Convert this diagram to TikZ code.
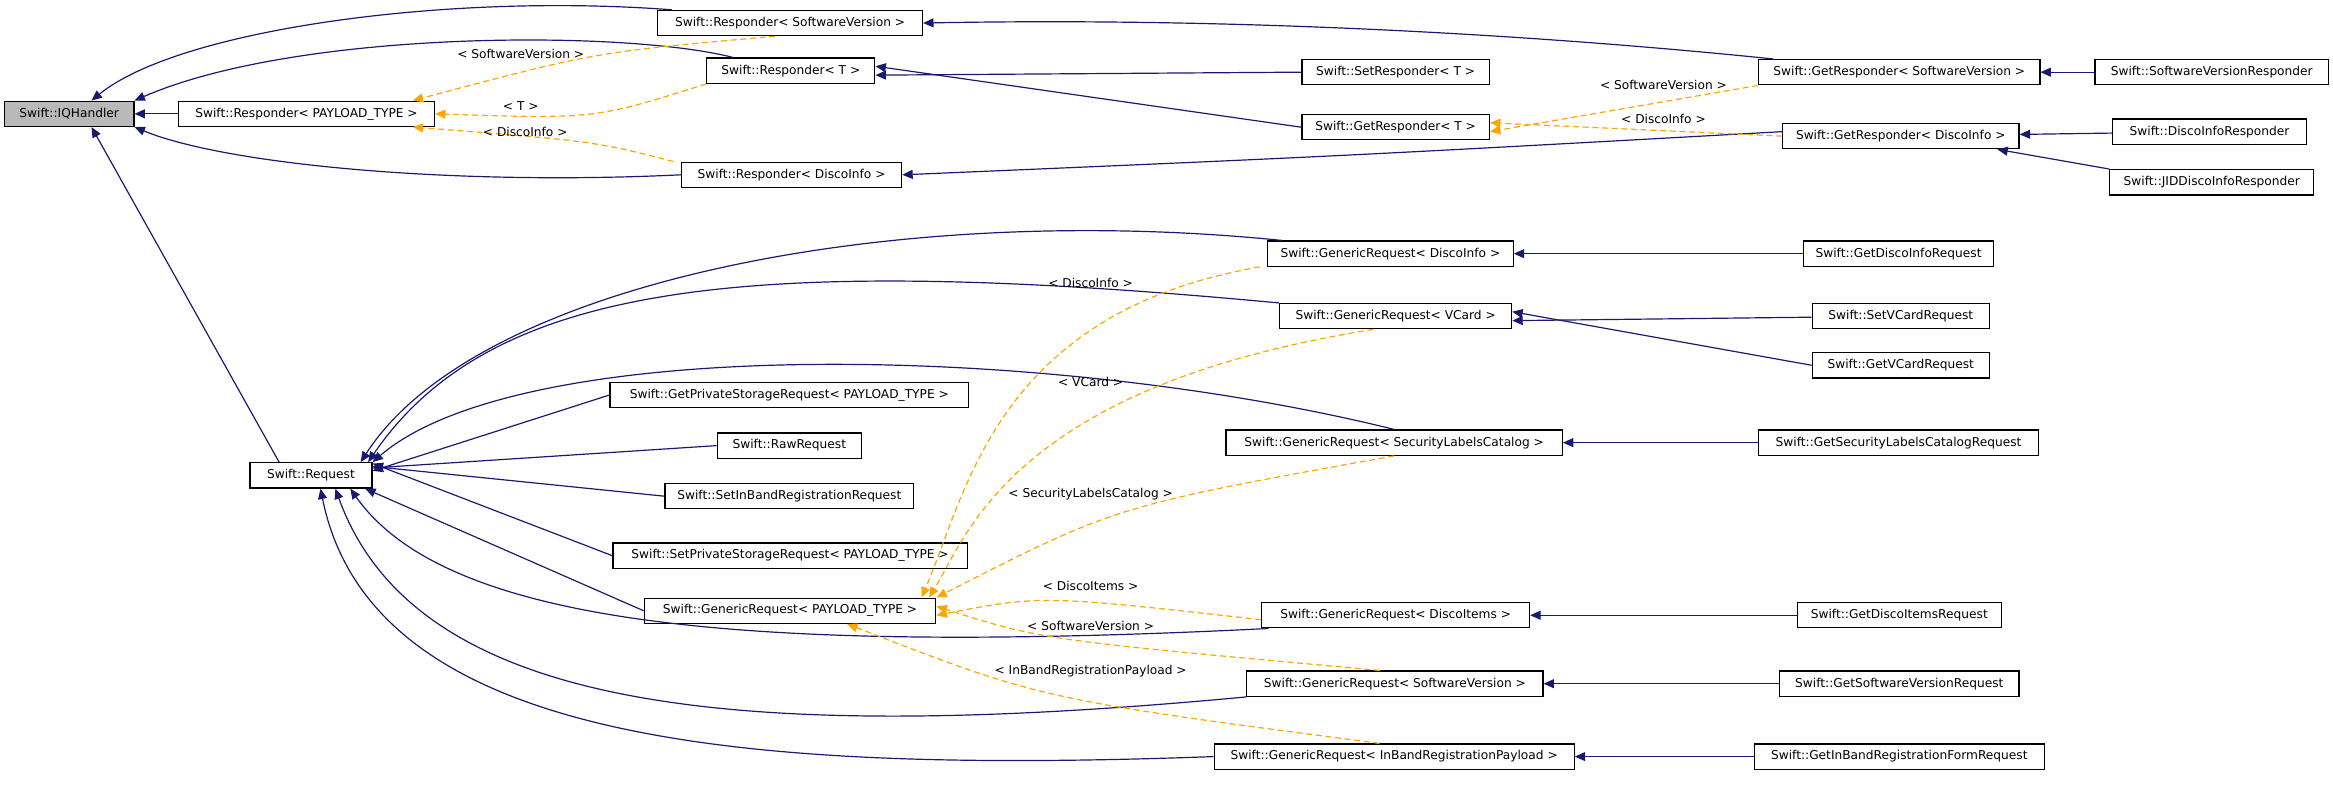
\documentclass[tikz,border=0pt]{standalone}
\usepackage{fontspec}
\setmainfont{DejaVu Sans}
\usetikzlibrary{arrows.meta}
\definecolor{nv}{HTML}{191970}
\definecolor{og}{HTML}{FFA500}
\begin{document}
\begin{tikzpicture}[x=1pt,y=-1pt,
 b/.style={draw,line width=0.8pt,minimum height=17pt,inner sep=1pt,font=\fontsize{8.2}{9}\selectfont,fill=white},
 inh/.style={nv,line width=0.8pt,-{Triangle[length=7pt,width=6pt]}},
 tpl/.style={og,line width=0.8pt,dashed,dash pattern=on 4pt off 2.5pt,-{Triangle[length=7pt,width=6pt]}},
 lb/.style={font=\fontsize{8.2}{9}\selectfont,inner sep=1pt}]
\useasboundingbox (0,0) rectangle (1568,529);
% nodes
\node[b,fill=gray!55,minimum width=87pt] (iq) at (46.5,76.5) {Swift::IQHandler};
\node[b,minimum width=172pt] (rp) at (206,76.5) {Swift::Responder< PAYLOAD\_TYPE >};
\node[b,minimum width=178pt] (rsv) at (531,15.5) {Swift::Responder< SoftwareVersion >};
\node[b,minimum width=113pt] (rt) at (531.5,47.5) {Swift::Responder< T >};
\node[b,minimum width=148pt] (rdi) at (532,117.5) {Swift::Responder< DiscoInfo >};
\node[b,minimum width=126pt] (srt) at (938,48.5) {Swift::SetResponder< T >};
\node[b,minimum width=126pt] (grt) at (938,85.5) {Swift::GetResponder< T >};
\node[b,minimum width=189pt] (grsv) at (1276.5,48.5) {Swift::GetResponder< SoftwareVersion >};
\node[b,minimum width=157pt] (svr) at (1486.5,48.5) {Swift::SoftwareVersionResponder};
\node[b,minimum width=159pt] (grdi) at (1277.5,91.5) {Swift::GetResponder< DiscoInfo >};
\node[b,minimum width=130pt] (dir) at (1485,88.5) {Swift::DiscoInfoResponder};
\node[b,minimum width=137pt] (jdr) at (1486.5,122.5) {Swift::JIDDiscoInfoResponder};
\node[b,minimum width=165pt] (gqdi) at (934.5,170.5) {Swift::GenericRequest< DiscoInfo >};
\node[b,minimum width=128pt] (gdir) at (1276,170.5) {Swift::GetDiscoInfoRequest};
\node[b,minimum width=156pt] (gqvc) at (938,212.5) {Swift::GenericRequest< VCard >};
\node[b,minimum width=119pt] (svc) at (1277.5,212.5) {Swift::SetVCardRequest};
\node[b,minimum width=119pt] (gvc) at (1277.5,245.5) {Swift::GetVCardRequest};
\node[b,minimum width=241pt] (gps) at (530.5,265.5) {Swift::GetPrivateStorageRequest< PAYLOAD\_TYPE >};
\node[b,minimum width=226pt] (gqsl) at (937,297.5) {Swift::GenericRequest< SecurityLabelsCatalog >};
\node[b,minimum width=188pt] (gslr) at (1276,297.5) {Swift::GetSecurityLabelsCatalogRequest};
\node[b,minimum width=97pt] (raw) at (530.5,299.5) {Swift::RawRequest};
\node[b,minimum width=82pt] (req) at (209,319.5) {Swift::Request};
\node[b,minimum width=167pt] (sib) at (530.5,333.5) {Swift::SetInBandRegistrationRequest};
\node[b,minimum width=238pt] (sps) at (531,373.5) {Swift::SetPrivateStorageRequest< PAYLOAD\_TYPE >};
\node[b,minimum width=196pt] (gqp) at (531,410.5) {Swift::GenericRequest< PAYLOAD\_TYPE >};
\node[b,minimum width=180pt] (gqdit) at (938,413.5) {Swift::GenericRequest< DiscoItems >};
\node[b,minimum width=137pt] (gdit) at (1276.5,413.5) {Swift::GetDiscoItemsRequest};
\node[b,minimum width=199pt] (gqsv) at (937.5,459.5) {Swift::GenericRequest< SoftwareVersion >};
\node[b,minimum width=161pt] (gsvr) at (1276.5,459.5) {Swift::GetSoftwareVersionRequest};
\node[b,minimum width=242pt] (gqib) at (937,508.5) {Swift::GenericRequest< InBandRegistrationPayload >};
\node[b,minimum width=195pt] (gibr) at (1276.5,508.5) {Swift::GetInBandRegistrationFormRequest};
% responder tree
\draw[inh] (rp) -- (iq);
\draw[inh] ([xshift=10pt]rsv.north west) .. controls (300,-5) and (120,20) .. ([xshift=15pt]iq.north);
\draw[inh] ([xshift=18pt]rt.north west) .. controls (420,20) and (200,20) .. (iq.north east);
\draw[inh] (rdi.west) .. controls (300,125) and (150,110) .. (iq.south east);
\draw[inh] ([xshift=20pt]req.north west) -- ([xshift=15pt]iq.south);
\draw[tpl] ([xshift=-10pt]rsv.south) .. controls (400,35) .. ([xshift=-15pt]rp.north east);
\draw[tpl] (rt.south west) .. controls (400,80) .. (rp.east);
\draw[tpl] ([xshift=-5pt]rdi.north west) .. controls (400,95) .. ([xshift=-15pt]rp.south east);
\node[lb] (l1) at (350,36) {< SoftwareVersion >};
\node[lb] (l2) at (350,71) {< T >};
\node[lb] (l3) at (353,89) {< DiscoInfo >};
\draw[inh] ([xshift=10pt]grsv.north west) .. controls (1000,20) and (800,12) .. (rsv.east);
\draw[inh] (srt.west) -- ([yshift=-3pt]rt.east);
\draw[inh] (grt.west) -- ([yshift=3pt]rt.east);
\draw[inh] ([yshift=3pt]grdi.west) .. controls (900,105) .. (rdi.east);
\draw[tpl] (grsv.south west) -- ([yshift=-3pt]grt.east);
\draw[tpl] (grdi.west) -- ([yshift=3pt]grt.east);
\node[lb] (l4) at (1118,57) {< SoftwareVersion >};
\node[lb] (l5) at (1118,80) {< DiscoInfo >};
\draw[inh] (svr) -- (grsv);
\draw[inh] (dir) -- (grdi);
\draw[inh] (jdr.north west) -- ([xshift=-15pt]grdi.south east);
% request tree
\draw[inh] ([xshift=10pt]gqdi.north west) .. controls (600,135) and (320,190) .. ([xshift=-8pt]req.north east);
\draw[inh] (gqvc.north west) .. controls (500,170) and (330,190) .. ([xshift=-3pt]req.north east);
\draw[inh] (gqsl.north) .. controls (700,230) and (350,225) .. (req.north east);
\draw[inh] (gps.west) -- ([yshift=3pt]req.east);
\draw[inh] (raw.west) -- ([yshift=5pt]req.east);
\draw[inh] (sib.west) -- ([yshift=6pt]req.east);
\draw[inh] (sps.west) -- ([yshift=8pt]req.east);
\draw[inh] (gqp.west) -- ([xshift=-5pt]req.south east);
\draw[inh] ([xshift=5pt]gqdit.south west) .. controls (500,440) and (300,420) .. ([xshift=-15pt]req.south east);
\draw[inh] (gqsv.south west) .. controls (500,500) and (280,480) .. ([xshift=-25pt]req.south east);
\draw[inh] (gqib.west) .. controls (500,520) and (250,500) .. ([xshift=-35pt]req.south east);
\draw[tpl] ([xshift=-5pt]gqdi.south west) .. controls (670,210) and (650,330) .. ([xshift=-10pt]gqp.north east);
\draw[tpl] ([xshift=-15pt]gqvc.south) .. controls (680,260) and (650,360) .. ([xshift=-5pt]gqp.north east);
\draw[tpl] (gqsl.south) .. controls (750,340) .. (gqp.north east);
\draw[tpl] ([yshift=-3pt]gqdit.west) .. controls (700,400) .. ([yshift=-3pt]gqp.east);
\draw[tpl] ([xshift=-10pt]gqsv.north) .. controls (700,430) .. ([yshift=3pt]gqp.east);
\draw[tpl] ([xshift=-10pt]gqib.north) .. controls (700,470) .. ([xshift=-60pt]gqp.south east);
\node[lb] (l6) at (733,190) {< DiscoInfo >};
\node[lb] (l7) at (733,257) {< VCard >};
\node[lb] (l8) at (733,332) {< SecurityLabelsCatalog >};
\node[lb] (l9) at (733,394) {< DiscoItems >};
\node[lb] (l10) at (733,421) {< SoftwareVersion >};
\node[lb] (l11) at (733,451) {< InBandRegistrationPayload >};
\draw[inh] (gdir) -- (gqdi);
\draw[inh] (svc) -- ([yshift=-3pt]gqvc.east);
\draw[inh] (gvc.west) -- ([yshift=3pt]gqvc.east);
\draw[inh] (gslr) -- (gqsl);
\draw[inh] (gdit) -- (gqdit);
\draw[inh] (gsvr) -- (gqsv);
\draw[inh] (gibr) -- (gqib);
\end{tikzpicture}
\end{document}
